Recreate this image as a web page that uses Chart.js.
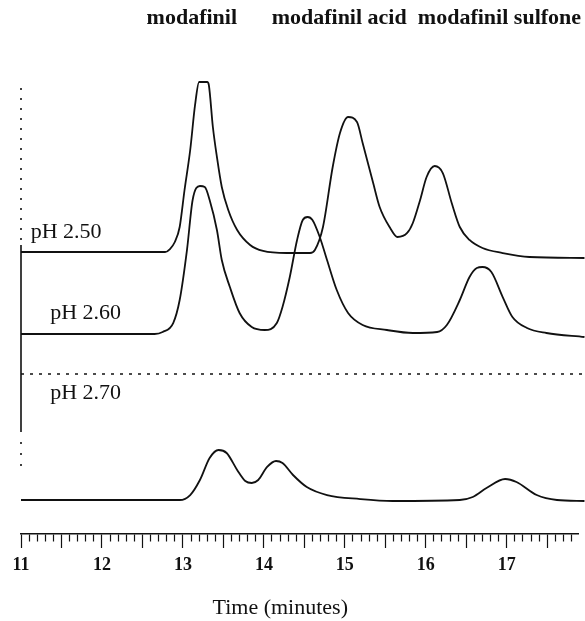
<!DOCTYPE html>
<html><head><meta charset="utf-8">
<script src="https://cdn.jsdelivr.net/npm/chart.js@4/dist/chart.umd.min.js"></script>
<style>html,body{margin:0;padding:0;background:#fff}#wrap{width:585px;height:621px;position:relative}</style>
</head><body><div id="wrap"><canvas id="c"></canvas></div>
<script>
// ---- data (time in minutes, detector signal in arbitrary units, traces stacked) ----
const tickLabels = ['11','12','13','14','15','16','17'];
const peakNames = ['modafinil','modafinil acid','modafinil sulfone'];
const peakNameTimes = [13.11, 14.93, 16.91];
const traceNames = ['pH 2.50','pH 2.60','pH 2.70'];

const ph250Time   = [11.00,12.59,12.78,12.84,12.90,12.96,13.02,13.09,13.15,13.20,13.30,13.32,13.37,13.42,13.48,13.56,13.67,13.83,13.99,14.28,14.57,14.63,14.73,14.85,14.94,15.04,15.15,15.22,15.35,15.43,15.56,15.65,15.77,15.84,15.93,16.01,16.11,16.21,16.32,16.42,16.54,16.70,16.95,17.28,17.96];
const ph250Signal = [52.81,52.81,52.81,53.37,54.68,57.49,64.42,71.91,80.34,84.64,84.64,84.08,76.22,70.60,64.98,60.67,56.93,54.12,53.00,52.62,52.62,53.18,57.49,68.73,75.09,78.09,77.15,73.22,65.73,61.24,57.30,55.62,56.37,58.24,62.55,66.85,68.91,67.60,61.99,57.49,55.06,53.56,52.62,51.87,51.69];

const ph260Time   = [11.00,12.65,12.75,12.88,12.96,13.05,13.12,13.21,13.27,13.33,13.42,13.48,13.58,13.70,13.85,14.01,14.16,14.23,14.32,14.41,14.48,14.54,14.60,14.69,14.78,14.90,15.04,15.22,15.52,15.84,16.14,16.26,16.42,16.54,16.63,16.70,16.81,16.95,17.07,17.25,17.49,17.96];
const ph260Signal = [37.45,37.45,37.83,39.51,43.82,53.18,62.55,65.17,64.98,62.55,56.93,51.31,46.25,41.39,38.76,38.20,39.51,42.51,48.13,55.06,58.80,59.36,58.80,55.62,51.31,45.69,41.39,39.14,38.20,37.64,37.83,39.14,43.82,48.13,49.81,50.00,49.06,44.38,40.64,38.58,37.64,36.89];

const ph270Time   = [11.00,12.96,13.09,13.21,13.33,13.44,13.54,13.67,13.77,13.85,13.93,14.04,14.15,14.23,14.36,14.53,14.78,15.19,15.59,16.42,16.58,16.75,16.98,17.12,17.37,17.62,17.96];
const ph270Signal = [6.37,6.37,7.30,10.11,14.23,15.73,15.17,11.99,9.93,9.55,10.11,12.55,13.67,13.30,11.05,8.80,7.30,6.55,6.18,6.37,6.93,8.61,10.30,9.74,7.30,6.37,6.18];

// reference marks
const markerTime = 11;
const markerDottedTop = [83.52, 54.12];
const markerSolid = [54.12, 19.10];
const markerDottedBottom = [17.23, 11.61];
const dashedLevel = 29.96;
const dashedEnd = 17.96;

const pts = (xs, ys) => xs.map((x, i) => ({x, y: ys[i]}));
const ink = '#111';
const serif = "'Liberation Serif','Times New Roman',serif";

const traceStyle = {borderColor: ink, borderWidth: 1.8, pointRadius: 0, cubicInterpolationMode: 'monotone', fill: false, clip: false};
const refStyle = {borderColor: ink, pointRadius: 0, tension: 0, fill: false, clip: false};

const textPlugin = {
  id: 'texts',
  afterDatasetsDraw(chart) {
    const {ctx, scales: {x, y}} = chart;
    ctx.save();
    ctx.fillStyle = ink;
    ctx.textBaseline = 'middle';
    ctx.textAlign = 'center';
    ctx.font = 'bold 22px ' + serif;
    peakNames.forEach((n, i) => ctx.fillText(n, x.getPixelForValue(peakNameTimes[i]), y.getPixelForValue(96.6)));
    ctx.textAlign = 'left';
    ctx.font = '22px ' + serif;
    const lx = [11.12, 11.36, 11.36], ly = [56.55, 41.39, 26.40];
    traceNames.forEach((n, i) => ctx.fillText(n, x.getPixelForValue(lx[i]), y.getPixelForValue(ly[i])));
    ctx.restore();
  }
};

new Chart(document.getElementById('c'), {
  type: 'line',
  data: {
    datasets: [
      {...traceStyle, label: traceNames[0], data: pts(ph250Time, ph250Signal)},
      {...traceStyle, label: traceNames[1], data: pts(ph260Time, ph260Signal)},
      {...traceStyle, label: traceNames[2], data: pts(ph270Time, ph270Signal)},
      {...refStyle, borderWidth: 1.6, borderDash: [2, 8], data: markerDottedTop.map(v => ({x: markerTime, y: v}))},
      {...refStyle, borderWidth: 1.6, data: markerSolid.map(v => ({x: markerTime, y: v}))},
      {...refStyle, borderWidth: 1.6, borderDash: [2, 9], data: markerDottedBottom.map(v => ({x: markerTime, y: v}))},
      {...refStyle, borderWidth: 1.3, borderDash: [3, 6], data: [{x: markerTime, y: dashedLevel}, {x: dashedEnd, y: dashedLevel}]}
    ]
  },
  options: {
    responsive: true,
    maintainAspectRatio: false,
    animation: false,
    events: [],
    layout: {padding: {left: 21, right: 7, top: 0, bottom: 0}},
    plugins: {legend: {display: false}, tooltip: {enabled: false}},
    scales: {
      x: {
        type: 'linear',
        min: 11,
        max: 17.88,
        afterBuildTicks: (s) => {
          const t = [];
          for (let i = 0; i <= 68; i++) t.push({value: Math.round(110 + i) / 10});
          s.ticks = t;
        },
        border: {display: true, color: ink, width: 1.5},
        grid: {
          display: true,
          drawOnChartArea: false,
          drawTicks: true,
          tickLength: 14,
          tickColor: ink,
          tickWidth: 1.2,
          tickBorderDash: (c) => (c.tick && Math.round(c.tick.value * 10) % 5 === 0) ? [] : [7, 30]
        },
        ticks: {
          autoSkip: false,
          maxRotation: 0,
          minRotation: 0,
          padding: 7,
          color: ink,
          font: {family: serif, size: 18, weight: 'bold'},
          callback: (v) => {
            const r = Math.round(v * 10);
            return (r % 10 === 0) ? (tickLabels[r / 10 - 11] || '') : '';
          }
        },
        title: {display: true, text: 'Time (minutes)\u00a0\u00a0\u00a0\u00a0\u00a0\u00a0\u00a0', color: ink, font: {family: serif, size: 22}, padding: {top: 11, bottom: 0}}
      },
      y: {type: 'linear', display: false, min: 0, max: 100}
    }
  },
  plugins: [textPlugin]
});
</script>
</body></html>
